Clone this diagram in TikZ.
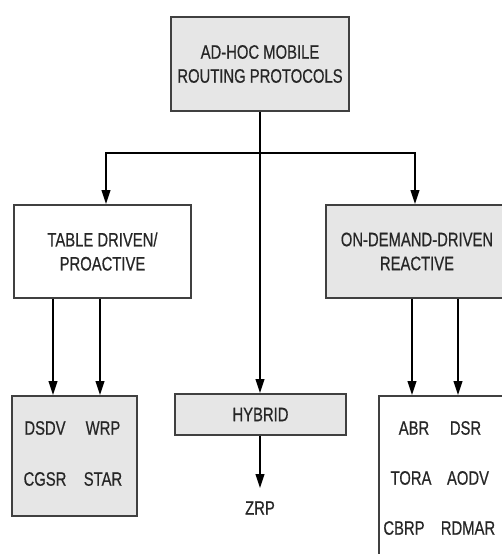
\documentclass[tikz,border=0pt]{standalone}
\usepackage{fontspec}
\newfontfamily\labelfont[FakeStretch=0.76,FakeBold=0.5]{Liberation Sans}
\usetikzlibrary{arrows.meta}
\usetikzlibrary{positioning}
\definecolor{boxgray}{RGB}{230,230,230}

\begin{document}
\begin{tikzpicture}[x=1pt,y=-1pt,
  every node/.style={font=\labelfont\fontsize{19.5}{24}\selectfont, inner sep=0pt, text=black!85},
  protobox/.style={draw=black!75, line width=1.6pt, align=center},
  arr/.style={line width=2.2pt, -{Triangle[length=14pt,width=8.5pt]}}]
  \useasboundingbox (0,0) rectangle (502,554);

  \node[protobox, fill=boxgray, minimum width=178pt, minimum height=94pt] (root) at (260,64) {AD-HOC MOBILE\\ROUTING PROTOCOLS};
  \node[protobox, fill=white, minimum width=177pt, minimum height=93pt] (proactive) at (102.5,251.5) {TABLE DRIVEN/\\PROACTIVE};
  \node[protobox, fill=boxgray, minimum width=182pt, minimum height=93pt] (reactive) at (417,251.5) {ON-DEMAND-DRIVEN\\REACTIVE};
  \node[protobox, fill=boxgray, minimum width=171pt, minimum height=41pt] (hybrid) at (260.5,414.5) {HYBRID};

  \node[protobox, fill=boxgray, minimum width=125pt, minimum height=120pt] (tablebox) at (74.5,456) {};
  \node (dsdv) at (45,428) {DSDV};
  \node (wrp) at (103,428) {WRP};
  \node (cgsr) at (45,479) {CGSR};
  \node (star) at (103,479) {STAR};

  \node[protobox, fill=white, minimum width=132pt, minimum height=168pt] (demandbox) at (445,480) {};
  \node (abr) at (414,428) {ABR};
  \node (dsr) at (465.5,428) {DSR};
  \node (tora) at (411,478) {TORA};
  \node (aodv) at (468,478) {AODV};
  \node (cbrp) at (404,528) {CBRP};
  \node (rdmar) at (468,528) {RDMAR};

  \node (zrp) at (260,508) {ZRP};

  \coordinate (split) at (260,153);
  \draw[line width=2.2pt] (root.south) -- (split);
  \draw[arr] (split) -| ([xshift=3.5pt]proactive.north);
  \draw[arr] (split) -| ([xshift=-2pt]reactive.north);
  \draw[arr] (split) -- (hybrid.north -| split);
  \draw[arr] (hybrid.south -| split) -- ([yshift=13pt]zrp.north);

  \draw[arr] (proactive.south -| 53,0) -- (tablebox.north -| 53,0);
  \draw[arr] (proactive.south -| 100,0) -- (tablebox.north -| 100,0);
  \draw[arr] (reactive.south -| 412,0) -- (demandbox.north -| 412,0);
  \draw[arr] (reactive.south -| 458,0) -- (demandbox.north -| 458,0);
\end{tikzpicture}
\end{document}
